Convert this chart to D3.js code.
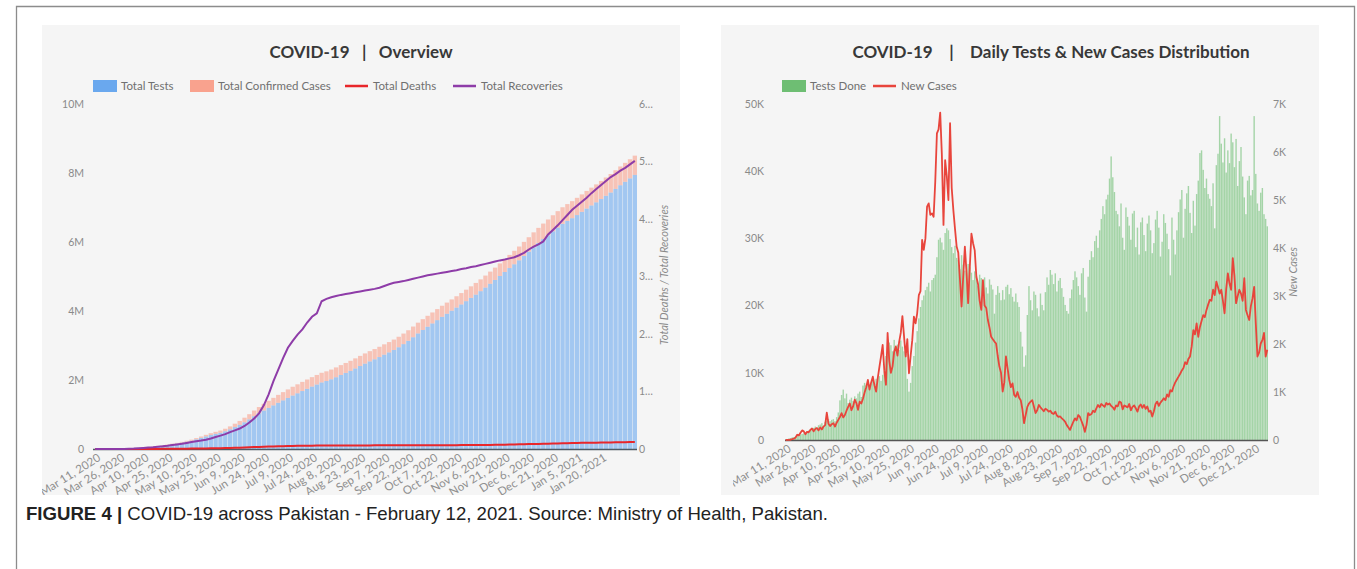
<!DOCTYPE html>
<html>
<head>
<meta charset="utf-8">
<script src="https://cdn.jsdelivr.net/npm/d3@7"></script>
<style>
body { margin: 0; background: #fff; }
text { font-family: Lato, "Open Sans", sans-serif; }
</style>
</head>
<body>
<script>
// ---- Overview panel: cumulative values, one sample every 3 days from Mar 11, 2020 (thousands)
var overviewStart = new Date(2020, 2, 11);
var overviewStep = 3;

var totalTestsK = [
  0.5, 0.8, 1.2, 2, 3, 5, 8, 12, 18, 25, 33, 45, 63, 82, 100, 118, 138, 160, 185, 212, 240,
  280, 322, 365, 405, 440, 470, 515, 570, 635, 700,
  775, 860, 950, 1035, 1115, 1190, 1265, 1340, 1410, 1480,
  1550, 1615, 1680, 1745, 1810, 1870, 1930, 1970, 2020, 2080,
  2145, 2205, 2265, 2335, 2405, 2475, 2540, 2600, 2665, 2735,
  2800, 2870, 2950, 3040, 3135, 3240, 3350, 3450, 3545, 3640,
  3735, 3830, 3920, 4010, 4100, 4190, 4285, 4380, 4475, 4575,
  4680, 4790, 4900, 5015, 5130, 5245, 5355, 5470, 5595, 5720,
  5850, 5970, 6085, 6195, 6310, 6420, 6525, 6610, 6690, 6780,
  6875, 6970, 7060, 7150, 7245, 7340, 7435, 7540, 7645, 7745, 7845, 7945
];
var totalCasesK = [
  0.02, 0.03, 0.05, 0.3, 0.8, 1.2, 1.6, 2.3, 3.2, 4.2, 4.8, 5.7, 6.9, 8.4, 10.5, 12.6, 15.0, 18.1, 21.5, 25.8, 30.9,
  36.0, 40.5, 46.0, 52.4, 57.7, 64.0, 72.5, 85.3, 98.9, 113.7,
  132.4, 148.9, 165.0, 181.1, 192.9, 206.5, 217.8, 228.4, 238.4, 246.3,
  254.0, 259.9, 265.1, 269.2, 272.8, 276.3, 279.1, 281.1, 282.6, 284.7,
  286.6, 288.7, 290.4, 292.2, 293.7, 295.1, 296.2, 297.0, 298.0, 299.2,
  300.0, 301.5, 303.3, 305.4, 307.4, 309.6, 311.6, 313.6, 315.7, 317.8,
  319.8, 321.9, 323.9, 325.6, 327.6, 330.0, 332.3, 335.1, 338.5, 342.4,
  346.8, 351.6, 357.6, 364.4, 372.2, 380.7, 389.9, 399.3, 408.6, 418.9,
  429.8, 439.4, 448.9, 457.4, 465.8, 474.2, 482.0, 488.2, 494.1, 499.7,
  505.0, 510.4, 515.3, 520.0, 525.1, 530.2, 535.7, 540.1, 544.6, 549.0, 553.9, 558.2
];
var totalRecoveriesK = [
  0, 0, 0, 0.01, 0.03, 0.1, 0.2, 0.4, 0.7, 1.2, 1.8, 2.4, 3.0, 3.8, 4.6, 5.6, 6.8, 8.0, 9.2, 10.6, 12.0,
  13.4, 14.6, 16.0, 18.3, 20.9, 23.2, 25.8, 29.4, 32.5, 35.6,
  40, 46, 53, 62, 76, 95, 118, 138, 158, 176,
  188, 199, 208, 220, 230, 236, 257, 261, 264, 266,
  268, 269.5, 271, 272.5, 274, 275.5, 277, 278.5, 280.5, 283.5,
  286.5, 289, 290.5, 292, 294, 296, 298, 300, 302, 303.5,
  305, 306.5, 308, 309.5, 311, 313, 314.5, 316.5, 318, 320,
  322, 324, 326, 328, 329.5, 331.5, 333.5, 337, 341, 347,
  352, 356, 361, 373, 381, 389, 398, 407, 416, 423,
  430, 437, 445, 452, 459, 466, 473, 478, 484, 489, 495, 501
];
var totalDeathsK = [
  0, 0, 0, 0, 0.01, 0.01, 0.02, 0.03, 0.05, 0.06, 0.08, 0.1, 0.13, 0.17, 0.22, 0.28, 0.36, 0.44, 0.53, 0.64, 0.74,
  0.83, 0.95, 1.07, 1.23, 1.32, 1.48, 1.65, 1.84, 2.07, 2.35,
  2.6, 2.9, 3.3, 3.6, 3.9, 4.2, 4.5, 4.7, 4.9, 5.1,
  5.3, 5.5, 5.6, 5.7, 5.8, 5.9, 5.95, 6.0, 6.05, 6.1,
  6.12, 6.15, 6.18, 6.22, 6.25, 6.27, 6.29, 6.31, 6.32, 6.34,
  6.36, 6.38, 6.4, 6.42, 6.44, 6.47, 6.5, 6.53, 6.56, 6.6,
  6.62, 6.65, 6.68, 6.71, 6.74, 6.78, 6.82, 6.86, 6.9, 6.96,
  7.03, 7.1, 7.2, 7.34, 7.5, 7.7, 7.9, 8.1, 8.3, 8.5,
  8.7, 8.9, 9.1, 9.3, 9.5, 9.7, 9.9, 10.1, 10.3, 10.5,
  10.7, 10.8, 10.9, 11.0, 11.1, 11.3, 11.4, 11.6, 11.7, 11.8, 12.0, 12.2
];
var overviewTicks = ["Mar 11, 2020", "Mar 26, 2020", "Apr 10, 2020", "Apr 25, 2020", "May 10, 2020",
  "May 25, 2020", "Jun 9, 2020", "Jun 24, 2020", "Jul 9, 2020", "Jul 24, 2020", "Aug 8, 2020",
  "Aug 23, 2020", "Sep 7, 2020", "Sep 22, 2020", "Oct 7, 2020", "Oct 22, 2020", "Nov 6, 2020",
  "Nov 21, 2020", "Dec 6, 2020", "Dec 21, 2020", "Jan 5, 2021", "Jan 20, 2021"];
var overviewLeftTicks = [0, 2000, 4000, 6000, 8000, 10000];
var overviewLeftLabels = ["0", "2M", "4M", "6M", "8M", "10M"];
var overviewRightTicks = [0, 100, 200, 300, 400, 500, 600];
var overviewRightLabels = ["0", "1\u2026", "2\u2026", "3\u2026", "4\u2026", "5\u2026", "6\u2026"];

// ---- Daily panel: one value per day from Mar 11, 2020
var dailyStart = new Date(2020, 2, 11);
var testsDone = [
  100, 150, 250, 300, 400, 450, 500,
  600, 700, 800, 900, 1000, 1100, 1300,
  1400, 1600, 1500, 1800, 2000, 1700, 2200,
  2300, 2500, 2100, 2700, 2900, 3100, 2800,
  3000, 3100, 2800, 3400, 4100, 5900, 6700,
  7500, 6200, 6900, 5500, 6000, 6300, 5800,
  6500, 6200, 6900, 7200, 6400, 8100, 8500,
  8200, 8700, 7800, 8400, 8900, 8300, 9100,
  9300, 9500, 8800, 9700, 10200, 12500, 13800,
  14500, 14100, 13200, 14900, 13600, 14200, 13400,
  14800, 13900, 13200, 12800, 9100, 7200, 8500,
  11000, 12500, 14500, 16200, 18100, 19800, 20800,
  21500, 22300, 22800, 23400, 22100, 23800, 24100,
  24600, 27200, 29800, 30100, 29400, 28300, 30800,
  31500, 31200, 29900, 28700, 27800, 28900, 27100,
  26800, 25400, 27500, 26100, 25200, 24800, 26200,
  25700, 24900, 23800, 25100, 24300, 22900, 24600,
  24100, 23600, 24200, 22700, 21800, 23900, 23100,
  22400, 18800, 21600, 22900, 21900, 20800, 22300,
  20900, 22800, 23100, 21700, 22600, 21300, 20600,
  21800, 20500, 19800, 16100, 13900, 10900, 12600,
  18600, 22900, 20800, 19300, 22100, 21600, 19600,
  18400, 21800, 20100, 19300, 22000, 24200, 23100,
  25300, 24600, 23200, 24800, 22100, 23700, 24100,
  22600, 21300, 20100, 19200, 18800, 21100, 22400,
  23800, 25100, 24200, 22900, 21600, 24800, 25600,
  21200, 19100, 24300, 26800, 28100, 27200, 29600,
  30400, 28600, 31200, 32900, 34800, 33600, 35800,
  36500, 38900, 42200, 39100, 36900, 34100, 33600,
  31800, 35200, 30100, 28300, 34600, 33200, 31900,
  29800, 33700, 34100, 28700, 31600, 27600, 32400,
  33100, 30500, 28100, 32200, 33400, 31200, 27800,
  29300, 32800, 34100, 31600, 27300, 29500, 33600,
  32300, 30700, 28400, 24500, 33100, 29800, 27600,
  31200, 33900, 35800, 37200, 30100, 34400, 36700,
  37800, 33800, 30800, 35600, 31900, 36600, 38600,
  42700, 43100, 40200, 37500, 38900, 36600, 35900,
  34800, 38200, 31500, 40900, 42600, 48200, 44100,
  41300, 44900, 39800, 43100, 41200, 45600, 44300,
  40600, 44800, 37800, 41500, 43600, 39200, 36100,
  33600, 38600, 39300, 36400, 37200, 48200, 39600,
  35200, 34100, 36800, 37500, 33600, 32900, 31800
];
var newCases = [
  0, 1, 2, 5, 20, 28, 53,
  110, 95, 150, 200, 180, 120, 170,
  160, 210, 240, 180, 230, 250, 200,
  260, 220, 280, 310, 570, 340, 290,
  330, 350, 280, 360, 420, 480, 560,
  470, 520, 610, 690, 760, 620, 700,
  840, 770, 630, 800, 760, 860, 990,
  1100, 1250, 1050, 1200, 1320, 1140, 1010,
  1290, 1520, 1740, 1980, 1450, 1150, 2230,
  1650, 1400, 1530, 1840, 1950, 1760, 2040,
  2230, 2580, 2160, 1740, 2100, 1390, 1750,
  2080, 2570, 2430, 2640, 3020, 3100, 4170,
  3960, 4200, 4860, 4930, 4690, 4720, 4650,
  5390, 6390, 6470, 6820, 5950, 4480, 5830,
  5500, 5000, 6600, 5250, 4790, 4400, 4030,
  3900, 3350, 2780, 3400, 4030, 3500, 2850,
  3600, 4300, 4100, 3950, 3400, 3250, 2900,
  2710, 3330, 2800, 2750, 2500, 2340, 2150,
  2100, 2050, 2010, 1750, 1530, 1400, 1010,
  1200, 1740, 1490, 1250, 1100, 1180, 940,
  900, 1000, 880, 830, 640, 350, 520,
  690, 760, 800, 830, 700, 560, 620,
  730, 680, 640, 600, 650, 630, 590,
  610, 560, 540, 590, 510, 480, 490,
  450, 420, 380, 310, 260, 210, 300,
  380, 450, 410, 520, 480, 390, 300,
  170, 310, 560, 520, 540, 610, 580,
  660, 730, 680, 750, 720, 690, 770,
  740, 760, 710, 680, 630, 720, 700,
  800, 780, 640, 720, 700, 680, 750,
  620, 690, 720, 660, 590, 700, 740,
  670, 730, 650, 700, 590, 610, 490,
  600, 750, 800, 710, 780, 820, 870,
  830, 950, 900, 1040, 1010, 1120, 1200,
  1260, 1320, 1380, 1450, 1500, 1620, 1580,
  1690, 1740, 1950, 2290, 2200, 2430, 2150,
  2350, 2480, 2600, 2560, 2710, 2820, 2920,
  2900, 3130, 3020, 3300, 3180, 3050, 3130,
  2900, 2640, 3150, 3470, 3260, 3130, 3790,
  3420, 2850, 3000, 3130, 3050, 2900, 3370,
  2710, 2600, 2500, 2790, 2950, 3190, 2430,
  1740, 1820, 2010, 2080, 2230, 1740, 1880
];
var dailyTicks = overviewTicks.slice(0, 20);
var dailyLeftTicks = [0, 10000, 20000, 30000, 40000, 50000];
var dailyLeftLabels = ["0", "10K", "20K", "30K", "40K", "50K"];
var dailyRightTicks = [0, 1000, 2000, 3000, 4000, 5000, 6000, 7000];
var dailyRightLabels = ["0", "1K", "2K", "3K", "4K", "5K", "6K", "7K"];

var W = 1357, H = 569;
var svg = d3.select("body").append("svg").attr("width", W).attr("height", H);

// figure frame
svg.append("path").attr("d", "M16.5,569V6.5H1354.5V569")
   .attr("fill", "none").attr("stroke", "#8c8c8c").attr("stroke-width", 1.3);

var defs = svg.append("defs");
function clip(id, x, y, w, h) {
  defs.append("clipPath").attr("id", id).append("rect")
      .attr("x", x).attr("y", y).attr("width", w).attr("height", h);
  return "url(#" + id + ")";
}

function panel(x, w) {
  svg.append("rect").attr("x", x).attr("y", 25).attr("width", w).attr("height", 470)
     .attr("fill", "#f5f5f5");
}

function yAxis(g, scale, ticks, labels, side, x) {
  var ax = (side === "left" ? d3.axisLeft(scale) : d3.axisRight(scale))
      .tickValues(ticks).tickSize(0).tickPadding(0)
      .tickFormat(function(d, i) { return labels[i]; });
  var a = g.append("g").attr("transform", "translate(" + x + ",0)").call(ax);
  a.select(".domain").remove();
  a.selectAll("text").attr("fill", "#8a8a8a").style("font-size", "10.5px")
   .style("font-family", "Lato, sans-serif");
}

function xLabels(g, xs, labels, every, y, clipUrl) {
  var lg = g.append("g").attr("clip-path", clipUrl);
  lg.selectAll("text").data(labels).enter().append("text")
    .attr("transform", function(d, i) {
      return "translate(" + (xs(i * every) + xs.bandwidth() / 2 + 2) + "," + y + ") rotate(-32)";
    })
    .attr("text-anchor", "end")
    .attr("dy", "0.7em")
    .attr("fill", "#8f8f8f").style("font-size", "11.5px")
    .text(function(d) { return d; });
}

function legendRect(g, x, color, label) {
  g.append("rect").attr("x", x).attr("y", 80).attr("width", 24).attr("height", 12).attr("fill", color);
  g.append("text").attr("x", x + 28).attr("y", 90).attr("fill", "#707070")
   .style("font-size", "11.5px").text(label);
}
function legendLine(g, x, color, label) {
  g.append("line").attr("x1", x).attr("x2", x + 23).attr("y1", 86).attr("y2", 86)
   .attr("stroke", color).attr("stroke-width", 2.5);
  g.append("text").attr("x", x + 28).attr("y", 90).attr("fill", "#707070")
   .style("font-size", "11.5px").text(label);
}

function title(g, x, txt) {
  g.append("text").attr("x", x).attr("y", 58).attr("text-anchor", "middle")
   .attr("fill", "#383838").style("font-size", "17px").style("font-weight", "700")
   .style("white-space", "pre").text(txt);
}

// ================= Overview =================
panel(42, 638);
var g1 = svg.append("g");
title(g1, 361, "COVID-19   |   Overview");
legendRect(g1, 93, "#6aa8ee", "Total Tests");
legendRect(g1, 190, "#f9a28e", "Total Confirmed Cases");
legendLine(g1, 345, "#e8262a", "Total Deaths");
legendLine(g1, 453, "#8e3ca8", "Total Recoveries");

var n1 = totalTestsK.length;
var x1 = d3.scaleBand().domain(d3.range(n1)).range([93, 637]).paddingInner(0.1);
var y1L = d3.scaleLinear().domain([0, 10000]).range([449, 104]);
var y1R = d3.scaleLinear().domain([0, 600]).range([449, 104]);

g1.selectAll("rect.tests").data(totalTestsK).enter().append("rect")
  .attr("x", function(d, i) { return x1(i); }).attr("width", x1.bandwidth())
  .attr("y", function(d) { return y1L(d); })
  .attr("height", function(d) { return y1L(0) - y1L(d); })
  .attr("fill", "#6aa8ee").attr("fill-opacity", 0.6);
g1.selectAll("rect.cases").data(totalCasesK).enter().append("rect")
  .attr("x", function(d, i) { return x1(i); }).attr("width", x1.bandwidth())
  .attr("y", function(d, i) { return y1L(totalTestsK[i] + d); })
  .attr("height", function(d, i) { return y1L(totalTestsK[i]) - y1L(totalTestsK[i] + d); })
  .attr("fill", "#f9a28e").attr("fill-opacity", 0.6);

g1.append("line").attr("x1", 93).attr("x2", 637).attr("y1", 449.5).attr("y2", 449.5)
  .attr("stroke", "#4f5b66").attr("stroke-width", 1.5);

var line1 = function(arr) {
  return d3.line().x(function(d, i) { return x1(i) + x1.bandwidth() / 2; })
                  .y(function(d) { return y1R(d); })(arr);
};
g1.append("path").attr("d", line1(totalDeathsK)).attr("fill", "none")
  .attr("stroke", "#e8262a").attr("stroke-width", 2);
g1.append("path").attr("d", line1(totalRecoveriesK)).attr("fill", "none")
  .attr("stroke", "#8e3ca8").attr("stroke-width", 2);

yAxis(g1, y1L, overviewLeftTicks, overviewLeftLabels, "left", 84);
yAxis(g1, y1R, overviewRightTicks, overviewRightLabels, "right", 639);
g1.append("text").attr("transform", "translate(668,275) rotate(-90)").attr("text-anchor", "middle")
  .attr("fill", "#8a8a8a").style("font-size", "11px").style("font-style", "italic")
  .text("Total Deaths / Total Recoveries");
xLabels(g1, x1, overviewTicks, 5, 453, clip("c1", 42, 25, 638, 470));

// ================= Daily =================
panel(721, 598);
var g2 = svg.append("g");
title(g2, 1051, "COVID-19    |    Daily Tests & New Cases Distribution");
legendRect(g2, 782, "#6ebe73", "Tests Done");
legendLine(g2, 873, "#e8453c", "New Cases");

var n2 = testsDone.length;
var x2 = d3.scaleBand().domain(d3.range(n2)).range([785, 1268]).paddingInner(0.15);
var y2L = d3.scaleLinear().domain([0, 50000]).range([440, 104]);
var y2R = d3.scaleLinear().domain([0, 7000]).range([440, 104]);

g2.selectAll("rect.done").data(testsDone).enter().append("rect")
  .attr("x", function(d, i) { return x2(i); }).attr("width", x2.bandwidth())
  .attr("y", function(d) { return y2L(d); })
  .attr("height", function(d) { return y2L(0) - y2L(d); })
  .attr("fill", "#6ebe73").attr("fill-opacity", 0.6);

g2.append("line").attr("x1", 785).attr("x2", 1268).attr("y1", 440.5).attr("y2", 440.5)
  .attr("stroke", "#555").attr("stroke-width", 1.5);

g2.append("path")
  .attr("d", d3.line().x(function(d, i) { return x2(i) + x2.bandwidth() / 2; })
                     .y(function(d) { return y2R(d); })(newCases))
  .attr("fill", "none").attr("stroke", "#e8453c").attr("stroke-width", 1.8)
  .attr("stroke-linejoin", "round");

yAxis(g2, y2L, dailyLeftTicks, dailyLeftLabels, "left", 764);
yAxis(g2, y2R, dailyRightTicks, dailyRightLabels, "right", 1273);
g2.append("text").attr("transform", "translate(1297,272) rotate(-90)").attr("text-anchor", "middle")
  .attr("fill", "#8a8a8a").style("font-size", "11px").style("font-style", "italic")
  .text("New Cases");
xLabels(g2, x2, dailyTicks, 15, 444, clip("c2", 733, 25, 586, 470));

// ================= Caption =================
var cap = svg.append("text").attr("x", 26).attr("y", 520).attr("fill", "#222")
  .style("font-family", "'Liberation Sans Narrow', 'Liberation Sans', Arial, sans-serif")
  .style("font-size", "18.6px");
cap.append("tspan").style("font-weight", "700").text("FIGURE 4 | ");
cap.append("tspan").text("COVID-19 across Pakistan - February 12, 2021. Source: Ministry of Health, Pakistan.");
</script>
</body>
</html>
